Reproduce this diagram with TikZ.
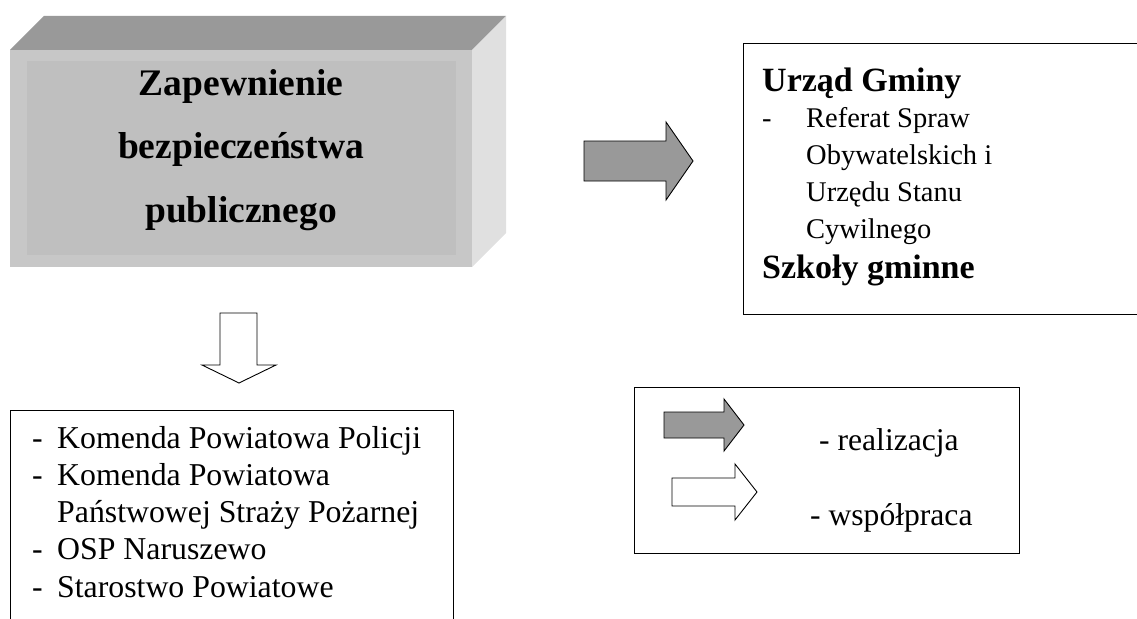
\documentclass[tikz,border=0pt]{standalone}
\usepackage{fontspec}
\setmainfont{Liberation Serif}

\tikzset{
  frame/.style={draw,line width=1.2pt,inner sep=0pt},
  fullarrow/.style={draw,line width=0.9pt,fill=black!40},
  openarrow/.style={draw,line width=0.9pt,fill=white},
  listtext/.style={inner sep=0pt,align=left}
}

\begin{document}
\begin{tikzpicture}[x=1pt,y=-1pt]
    \clip (0,0) rectangle (1137,618);

    % raised box
    \fill[black!40] (10,50) -- (44,16) -- (506,16) -- (472,50) -- cycle;
    \fill[black!12] (472,50) -- (506,16) -- (506,233) -- (472,267) -- cycle;
    \fill[black!22] (10,50) rectangle (472,267);
    \fill[black!25] (27,61) rectangle (456,255);
    \node[inner sep=0pt,anchor=north,align=center,
          font=\bfseries\fontsize{37.5}{63.5}\selectfont] (task) at (241,69)
        {Zapewnienie\\bezpieczeństwa\\publicznego};

    % realizacja
    \draw[fullarrow] (584,141) -- (666,141) -- (666,122) -- (693,161)
        -- (666,200) -- (666,181) -- (584,181) -- cycle;
    \node[frame,anchor=north west,minimum width=410,minimum height=271] (gmina) at (743,43) {};
    \node[listtext,anchor=north west,font=\fontsize{28.5}{36.7}\selectfont] (gminatext) at (762,67.5)
        {{\bfseries\fontsize{34}{36.7}\selectfont Urząd Gminy}\\
         \makebox[44pt][l]{-}Referat Spraw\\
         \hspace*{44pt}Obywatelskich i\\
         \hspace*{44pt}Urzędu Stanu\\
         \hspace*{44pt}Cywilnego\\[4pt]
         {\bfseries\fontsize{34}{36.7}\selectfont Szkoły gminne}};

    % wspolpraca
    \draw[openarrow] (220,313) -- (257,313) -- (257,365) -- (276,365)
        -- (239,383) -- (202,365) -- (220,365) -- cycle;
    \node[frame,anchor=north west,minimum width=443,minimum height=240] (units) at (10,410) {};
    \node[listtext,anchor=north west,font=\fontsize{31.8}{37.2}\selectfont] (unitstext) at (32,426)
        {\makebox[25pt][l]{-}Komenda Powiatowa Policji\\
         \makebox[25pt][l]{-}Komenda Powiatowa\\
         \hspace*{25pt}Państwowej Straży Pożarnej\\
         \makebox[25pt][l]{-}OSP Naruszewo\\
         \makebox[25pt][l]{-}Starostwo Powiatowe};

    % legenda
    \node[frame,anchor=north west,minimum width=385,minimum height=166] (legend) at (634,387) {};
    \draw[fullarrow] (664,412) -- (724,412) -- (724,399) -- (744,425)
        -- (724,451) -- (724,438) -- (664,438) -- cycle;
    \draw[openarrow] (672,478) -- (735,478) -- (735,464) -- (757,492)
        -- (735,520) -- (735,506) -- (672,506) -- cycle;
    \node[inner sep=0pt,anchor=base west,font=\fontsize{31.6}{36}\selectfont] (realizacja) at (819,450) {- realizacja};
    \node[inner sep=0pt,anchor=base west,font=\fontsize{31.6}{36}\selectfont] (wspolpraca) at (810,525) {- współpraca};
\end{tikzpicture}
\end{document}
